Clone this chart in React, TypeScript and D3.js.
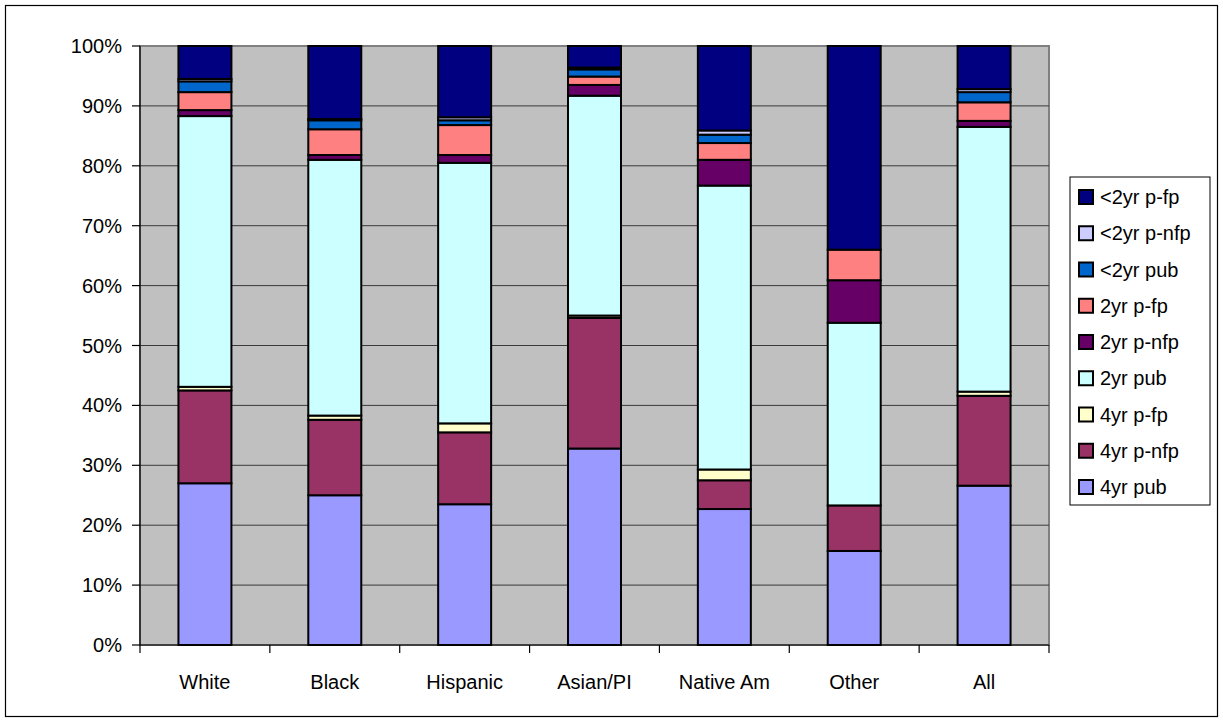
import React from "react";
import * as d3 from "d3";

// categories along the x axis
const categories = ["White", "Black", "Hispanic", "Asian/PI", "Native Am", "Other", "All"];

// series, bottom of the stack first
const seriesNames = ["4yr pub", "4yr p-nfp", "4yr p-fp", "2yr pub", "2yr p-nfp", "2yr p-fp", "<2yr pub", "<2yr p-nfp", "<2yr p-fp"];
const seriesColors = ["#9999FF", "#993366", "#FFFFCC", "#CCFFFF", "#660066", "#FF8080", "#0066CC", "#CCCCFF", "#000080"];

// percent of each category
const pub4 = [27.0, 25.0, 23.5, 32.8, 22.7, 15.7, 26.6];
const nfp4 = [15.5, 12.6, 12.0, 21.8, 4.8, 7.6, 15.0];
const fp4 = [0.6, 0.7, 1.5, 0.4, 1.8, 0.0, 0.7];
const pub2 = [45.2, 42.7, 43.5, 36.7, 47.4, 30.5, 44.2];
const nfp2 = [1.0, 0.8, 1.3, 1.8, 4.3, 7.1, 1.0];
const fp2 = [3.0, 4.3, 5.0, 1.4, 2.8, 5.1, 3.1];
const pubL2 = [1.8, 1.5, 0.8, 1.2, 1.4, 0.0, 1.7];
const nfpL2 = [0.4, 0.2, 0.5, 0.3, 0.7, 0.0, 0.5];
const fpL2 = [5.5, 12.2, 11.9, 3.6, 14.1, 34.0, 7.2];

const yTicks = [0, 0.1, 0.2, 0.3, 0.4, 0.5, 0.6, 0.7, 0.8, 0.9, 1];

const W = 1223;
const H = 722;
const plot = {left: 140, top: 46, right: 1049, bottom: 645};
const font = "Arial, 'Liberation Sans', sans-serif";

const App = () => {
    const allSeries = [pub4, nfp4, fp4, pub2, nfp2, fp2, pubL2, nfpL2, fpL2];
    const rows = categories.map((c, i) => {
        const row: any = {cat: c};
        seriesNames.forEach((s, j) => (row[s] = allSeries[j][i]));
        return row;
    });

    const stacked = d3.stack<any>()
        .keys(seriesNames)
        .offset(d3.stackOffsetExpand)(rows);

    const x = d3.scaleBand()
        .domain(categories)
        .range([plot.left, plot.right])
        .paddingInner(0.592)
        .paddingOuter(0.296);

    const y = d3.scaleLinear()
        .domain([0, 1])
        .range([plot.bottom, plot.top]);

    const step = x.step();
    const legendX = 1070;
    const legendY = 177;
    const rowH = 36.25;
    const legendOrder = seriesNames.map((s, i) => i).reverse();

    return (
        <svg width={W} height={H} style={{position: "absolute", left: 0, top: 0, background: "#fff"}}
             fontFamily={font}>
            <rect x={5.5} y={5.5} width={W - 11} height={H - 11} fill="#fff" stroke="#000" strokeWidth={1.2}/>

            {/* plot area */}
            <rect x={plot.left} y={plot.top} width={plot.right - plot.left} height={plot.bottom - plot.top}
                  fill="#C0C0C0" stroke="#808080" strokeWidth={2}/>
            {yTicks.slice(1, -1).map(t => (
                <line key={t} x1={plot.left} x2={plot.right} y1={y(t)} y2={y(t)} stroke="#3a3a3a" strokeWidth={1}/>
            ))}

            {/* bars */}
            {stacked.map((layer, j) => (
                <g key={seriesNames[j]} fill={seriesColors[j]}>
                    {layer.map((d, i) => (
                        <rect key={i} x={x(categories[i])} width={x.bandwidth()}
                              y={y(d[1])} height={y(d[0]) - y(d[1])}
                              stroke="#000" strokeWidth={2}/>
                    ))}
                </g>
            ))}

            {/* y axis */}
            <line x1={plot.left} x2={plot.left} y1={plot.top} y2={plot.bottom} stroke="#000" strokeWidth={1.2}/>
            {yTicks.map(t => (
                <g key={t}>
                    <line x1={plot.left - 8} x2={plot.left} y1={y(t)} y2={y(t)} stroke="#000" strokeWidth={1.2}/>
                    <text x={122} y={y(t)} dy="0.35em" textAnchor="end" fontSize={20} fill="#000">
                        {d3.format(".0%")(t)}
                    </text>
                </g>
            ))}

            {/* x axis */}
            <line x1={plot.left} x2={plot.right} y1={plot.bottom} y2={plot.bottom} stroke="#000" strokeWidth={1.2}/>
            {categories.map((c, i) => (
                <g key={c}>
                    <line x1={plot.left + step * i} x2={plot.left + step * i} y1={plot.bottom} y2={plot.bottom + 8}
                          stroke="#000" strokeWidth={1.2}/>
                    <text x={(x(c) as number) + x.bandwidth() / 2} y={689} textAnchor="middle" fontSize={20} fill="#000">
                        {c}
                    </text>
                </g>
            ))}
            <line x1={plot.right} x2={plot.right} y1={plot.bottom} y2={plot.bottom + 8} stroke="#000" strokeWidth={1.2}/>

            {/* legend */}
            <rect x={legendX} y={legendY} width={140} height={328} fill="#fff" stroke="#000" strokeWidth={1}/>
            {legendOrder.map((j, k) => {
                const cy = legendY + 20 + k * rowH;
                return (
                    <g key={seriesNames[j]}>
                        <rect x={legendX + 9} y={cy - 7} width={14} height={14} fill={seriesColors[j]}
                              stroke="#000" strokeWidth={2}/>
                        <text x={legendX + 30} y={cy} dy="0.35em" fontSize={20} fill="#000">{seriesNames[j]}</text>
                    </g>
                );
            })}
        </svg>
    );
};

export default App;
